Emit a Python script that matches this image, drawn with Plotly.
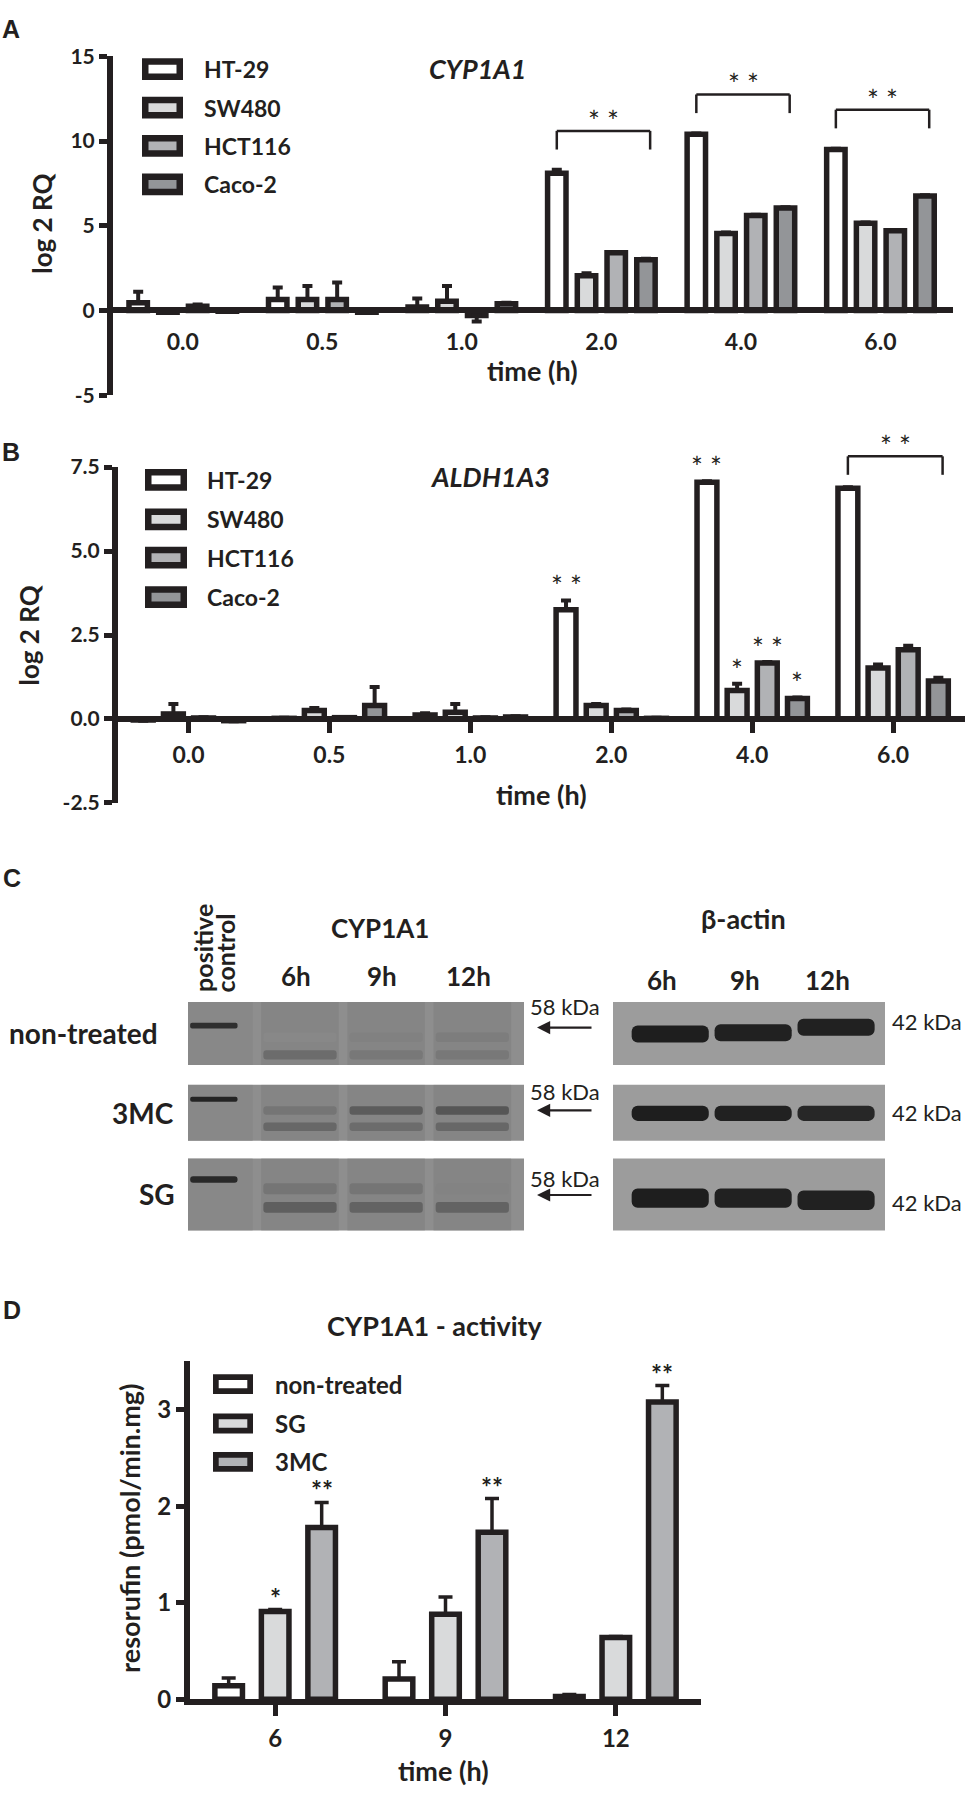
import plotly.graph_objects as go

W, H = 969, 1797
INK = "#231f20"
FONT = "Lato"
LETTER_FONT = "Liberation Sans"

# ---------------- panels A / B : qPCR, log2 RQ ----------------
times_ab = ["0.0", "0.5", "1.0", "2.0", "4.0", "6.0"]
cell_lines = ["HT-29", "SW480", "HCT116", "Caco-2"]
line_colors = ["#ffffff", "#d9dadb", "#b1b2b5", "#939598"]

# CYP1A1 (mean and SD)
cyp_ht29 = [0.45, 0.65, 0.2, 8.1, 10.4, 9.5]
cyp_sw480 = [-0.1, 0.65, 0.55, 2.05, 4.55, 5.15]
cyp_hct116 = [0.25, 0.65, -0.3, 3.4, 5.6, 4.7]
cyp_caco2 = [-0.05, -0.1, 0.4, 3.0, 6.05, 6.75]
cyp_ht29_sd = [0.65, 0.7, 0.5, 0.2, 0.05, 0.05]
cyp_sw480_sd = [0.02, 0.8, 0.9, 0.15, 0.05, 0.05]
cyp_hct116_sd = [0.1, 1.0, 0.35, 0.05, 0.05, 0.05]
cyp_caco2_sd = [0.02, 0.02, 0.05, 0.05, 0.05, 0.05]

# ALDH1A3 (mean and SD)
ald_ht29 = [-0.03, 0.02, 0.12, 3.25, 7.05, 6.87]
ald_sw480 = [0.15, 0.25, 0.2, 0.4, 0.85, 1.52]
ald_hct116 = [0.03, 0.04, 0.03, 0.25, 1.67, 2.06]
ald_caco2 = [-0.05, 0.4, 0.06, 0.02, 0.61, 1.13]
ald_ht29_sd = [0.02, 0.02, 0.05, 0.28, 0.03, 0.03]
ald_sw480_sd = [0.3, 0.08, 0.25, 0.05, 0.2, 0.1]
ald_hct116_sd = [0.02, 0.02, 0.02, 0.03, 0.03, 0.12]
ald_caco2_sd = [0.02, 0.55, 0.02, 0.02, 0.03, 0.1]

# significance: brackets over whole groups, stars over single bars
cyp_bracket_groups = ["2.0", "4.0", "6.0"]
ald_bracket_groups = ["6.0"]
ald_star_marks = [("2.0", "HT-29", "* *"), ("4.0", "HT-29", "* *"), ("4.0", "SW480", "*"),
                  ("4.0", "HCT116", "* *"), ("4.0", "Caco-2", "*")]

# ---------------- panel C : western blot ----------------
treatments_c = ["non-treated", "3MC", "SG"]
cyp_lanes = ["positive control", "6h", "9h", "12h"]
actin_lanes = ["6h", "9h", "12h"]
# band migration (0 = top of strip, 1 = bottom) and darkness (0..1)
cyp_control_pos = [0.375, 0.26, 0.29]
cyp_upper_pos = [0.56, 0.46, 0.42]
cyp_lower_pos = [0.84, 0.75, 0.68]
cyp_control_int = [0.85, 0.95, 0.9]
cyp_upper_int = [[0.05, 0.12, 0.15], [0.22, 0.45, 0.5], [0.22, 0.22, 0.1]]
cyp_lower_int = [[0.3, 0.2, 0.2], [0.35, 0.3, 0.35], [0.42, 0.38, 0.38]]
cyp_lane_smear = [0.05, 0.08, 0.08, 0.08]
actin_pos = [[0.51, 0.49, 0.40], [0.51, 0.51, 0.51], [0.55, 0.55, 0.58]]
actin_int = [[0.97, 0.95, 0.95], [0.97, 0.95, 0.9], [0.97, 0.95, 0.95]]

# ---------------- panel D : CYP1A1 activity ----------------
act_times = ["6", "9", "12"]
treatments_d = ["non-treated", "SG", "3MC"]
treat_colors = ["#ffffff", "#d9dadb", "#b1b2b5"]
act_nontreated = [0.14, 0.21, 0.03]
act_sg = [0.91, 0.88, 0.64]
act_3mc = [1.78, 1.73, 3.08]
act_nontreated_sd = [0.08, 0.18, 0.02]
act_sg_sd = [0.02, 0.18, 0.01]
act_3mc_sd = [0.26, 0.35, 0.17]
act_star_marks = [("6", "SG", "*"), ("6", "3MC", "**"), ("9", "3MC", "**"), ("12", "3MC", "**")]


def px(x):
    return x / W


def py(y):
    return 1 - y / H


fig = go.Figure()
shapes = []
annotations = []
axes = {}


def fnt(size, bold=True, italic=False, family=FONT):
    return dict(family=family, size=size, color=INK, weight="bold" if bold else "normal",
                style="italic" if italic else "normal")


def text(t, x, y, size, bold=True, italic=False, angle=0, xanchor="center", yanchor="middle", family=FONT):
    annotations.append(dict(text=t, x=px(x), y=py(y), xref="paper", yref="paper", showarrow=False,
                            textangle=angle, xanchor=xanchor, yanchor=yanchor,
                            font=fnt(size, bold, italic, family)))


def to_paper(ax, v):
    ya = axes["yaxis" + ax]
    d0, d1 = ya["domain"]
    r0, r1 = ya["range"]
    return d0 + (v - r0) / (r1 - r0) * (d1 - d0)


def add_bars(ax, cats, series, errs, names, colors, pitch, width, lw, err_w, err_t):
    n = len(series)
    for k in range(n):
        vals, sd = series[k], errs[k]
        up = [e if v >= 0 else 0 for v, e in zip(vals, sd)]
        down = [0 if v >= 0 else e for v, e in zip(vals, sd)]
        fig.add_trace(go.Bar(
            x=cats, y=vals, name=names[k], xaxis="x" + ax, yaxis="y" + ax,
            width=width, offset=(k - (n - 1) / 2) * pitch - width / 2,
            marker=dict(color=colors[k], line=dict(color=INK, width=lw)),
            error_y=dict(type="data", symmetric=False, array=up, arrayminus=down,
                         color=INK, thickness=err_t, width=err_w),
            showlegend=False))


def stars_over_bar(ax, cats, series, errs, names, pitch, marks, size, bold, yshift):
    n = len(series)
    for cat, name, t in marks:
        g, k = cats.index(cat), names.index(name)
        top = series[k][g] + errs[k][g]
        annotations.append(dict(xref="x" + ax, yref="paper", x=g + (k - (n - 1) / 2) * pitch,
                                y=to_paper(ax, top), text=t, showarrow=False, yanchor="middle",
                                yshift=yshift, font=fnt(size, bold)))


def brackets(ax, cats, series, errs, pitch, groups, leg, rise, yshift):
    n = len(series)
    for cat in groups:
        g = cats.index(cat)
        top = max(s[g] + e[g] for s, e in zip(series, errs))
        x0 = g - (n - 1) / 2 * pitch
        x1 = g + (n - 1) / 2 * pitch + 0.03
        y0, y1 = to_paper(ax, top + leg), to_paper(ax, top + rise)
        for a, b, c, d in [(x0, y0, x0, y1), (x0, y1, x1, y1), (x1, y1, x1, y0)]:
            shapes.append(dict(type="line", xref="x" + ax, yref="paper", x0=a, y0=b, x1=c, y1=d,
                               line=dict(color=INK, width=2.5)))
        annotations.append(dict(xref="x" + ax, yref="paper", x=(x0 + x1) / 2, y=y1, text="* *",
                                showarrow=False, yanchor="middle", yshift=yshift, font=fnt(28, False)))


def legend_boxes(names, colors, left, right, rows, box_h, lw, text_x, size):
    for name, col, yy in zip(names, colors, rows):
        shapes.append(dict(type="rect", xref="paper", yref="paper",
                           x0=px(left + lw / 2), x1=px(right - lw / 2),
                           y0=py(yy + box_h / 2 - lw / 2), y1=py(yy - box_h / 2 + lw / 2),
                           fillcolor=col, line=dict(color=INK, width=lw)))
        text(name, text_x, yy, size, xanchor="left")


def chart_axes(ax, xdom, ydom, yrange, xrange, yticks, yticktext, xfree, xticks, tickfont_y, tickfont_x):
    xa = dict(domain=xdom, type="category", range=xrange, showline=True, linewidth=6, linecolor=INK,
              showgrid=False, zeroline=False, tickfont=fnt(tickfont_x), fixedrange=True)
    if xticks:
        xa.update(ticks="outside", ticklen=11, tickwidth=5, tickcolor=INK, ticklabelstandoff=2)
    else:
        xa.update(ticks="", ticklabelstandoff=9)
    if xfree:
        zero = ydom[0] + (0 - yrange[0]) / (yrange[1] - yrange[0]) * (ydom[1] - ydom[0])
        xa.update(anchor="free", position=zero)
    else:
        xa.update(anchor="y" + ax)
    ya = dict(domain=ydom, range=yrange, anchor="x" + ax, showline=True, linewidth=6, linecolor=INK,
              ticks="outside", ticklen=8, tickwidth=5, tickcolor=INK, tickvals=yticks, ticktext=yticktext,
              tickfont=fnt(tickfont_y), showgrid=False, zeroline=False, fixedrange=True)
    axes["xaxis" + ax] = xa
    axes["yaxis" + ax] = ya


# ---- panel A ----
cyp_series = [cyp_ht29, cyp_sw480, cyp_hct116, cyp_caco2]
cyp_errs = [cyp_ht29_sd, cyp_sw480_sd, cyp_hct116_sd, cyp_caco2_sd]
chart_axes("", [px(113), px(953)], [py(387), py(43)], [-5, 15], [-0.5, 5.52],
           [-5, 0, 5, 10, 15], ["-5", "0", "5", "10", "15"], True, False, 21, 23)
add_bars("", times_ab, cyp_series, cyp_errs, cell_lines, line_colors, 0.213, 0.132, 5.5, 5, 4)
brackets("", times_ab, cyp_series, cyp_errs, 0.213, cyp_bracket_groups, 1.2, 2.3, 10)
legend_boxes(cell_lines, line_colors, 142, 183, [56, 95, 134, 173], 22, 6.5, 202, 23)
text("CYP1A1", 478, 55, 27, italic=True)
text("log 2 RQ", 42, 213, 26, angle=-90)
text("time (h)", 532, 362, 27)
text("A", 11, 15, 25, family=LETTER_FONT)

# ---- panel B ----
ald_series = [ald_ht29, ald_sw480, ald_hct116, ald_caco2]
ald_errs = [ald_ht29_sd, ald_sw480_sd, ald_hct116_sd, ald_caco2_sd]
chart_axes("2", [px(118), px(965)], [py(801), py(460)], [-2.5, 7.5], [-0.5, 5.51],
           [-2.5, 0, 2.5, 5, 7.5], ["-2.5", "0.0", "2.5", "5.0", "7.5"], True, True, 21, 23)
add_bars("2", times_ab, ald_series, ald_errs, cell_lines, line_colors, 0.214, 0.141, 5.5, 5, 4)
brackets("2", times_ab, ald_series, ald_errs, 0.214, ald_bracket_groups, 0.37, 0.92, 10)
stars_over_bar("2", times_ab, ald_series, ald_errs, cell_lines, 0.214, ald_star_marks, 28, False, 14)
legend_boxes(cell_lines, line_colors, 145, 187, [473, 513, 552, 592], 22, 6.5, 205, 23)
text("ALDH1A3", 490, 470, 27, italic=True)
text("log 2 RQ", 29, 631, 26, angle=-90)
text("time (h)", 541, 792, 27)
text("B", 11, 445, 25, family=LETTER_FONT)

# ---- panel D ----
act_series = [act_nontreated, act_sg, act_3mc]
act_errs = [act_nontreated_sd, act_sg_sd, act_3mc_sd]
chart_axes("3", [px(190), px(701)], [py(1711), py(1368)], [0, 3.5], [-0.5, 2.5],
           [0, 1, 2, 3], ["0", "1", "2", "3"], False, True, 24, 24)
add_bars("3", act_times, act_series, act_errs, treatments_d, treat_colors, 0.273, 0.162, 5.5, 7, 3.5)
stars_over_bar("3", act_times, act_series, act_errs, treatments_d, 0.273, act_star_marks, 26, True, 12)
legend_boxes(treatments_d, treat_colors, 213, 253, [1391, 1431, 1470], 20, 5.7, 273, 24)
text("CYP1A1 - activity", 435, 1331, 27)
text("resorufin (pmol/min.mg)", 130, 1538, 27, angle=-90)
text("time (h)", 443, 1783, 27)
text("D", 12, 1316, 25, family=LETTER_FONT)

# ---- panel C : blots ----
row_px = [(1003, 1067), (1087, 1144), (1162, 1235)]
cyp_bg, actin_bg = "#8e8e8e", "#9c9c9c"
cyp_scale = [[0, cyp_bg], [1, "#1e1e1e"]]
for r, (top, bottom) in enumerate(row_px):
    for i, (xdom, xr, bg) in enumerate([((188, 524), [-0.3, 3.6], cyp_bg),
                                        ((613, 885), [-0.69, 2.59], actin_bg)]):
        n = 4 + r + 3 * i
        axes["xaxis%d" % n] = dict(domain=[px(xdom[0]), px(xdom[1])], range=xr, type="category",
                                   visible=False, anchor="y%d" % n, fixedrange=True)
        axes["yaxis%d" % n] = dict(domain=[py(bottom), py(top)], range=[1, 0], visible=False,
                                   anchor="x%d" % n, fixedrange=True)
        shapes.append(dict(type="rect", xref="x%d domain" % n, yref="y%d domain" % n,
                           x0=0, x1=1, y0=0, y1=1, fillcolor=bg, line=dict(width=0), layer="below"))

    # CYP1A1 strip: faint lane smear, then bands
    fig.add_trace(go.Bar(x=cyp_lanes, y=[1] * 4, base=[0] * 4, width=0.9, offset=-0.45,
                         marker=dict(color=cyp_lane_smear, colorscale=cyp_scale, cmin=0, cmax=1,
                                     line=dict(width=0)),
                         xaxis="x%d" % (4 + r), yaxis="y%d" % (4 + r), showlegend=False))
    xs = [cyp_lanes[0]] + cyp_lanes[1:] + cyp_lanes[1:]
    pos = [cyp_control_pos[r]] + [cyp_upper_pos[r]] * 3 + [cyp_lower_pos[r]] * 3
    inten = [cyp_control_int[r]] + cyp_upper_int[r] + cyp_lower_int[r]
    thick = [0.09] + [0.15] * 6
    wid = [0.55] + [0.85] * 6
    fig.add_trace(go.Bar(x=xs, y=thick, base=[p - t / 2 for p, t in zip(pos, thick)],
                         width=wid, offset=[-w / 2 for w in wid],
                         marker=dict(color=inten, colorscale=cyp_scale, cmin=0, cmax=1,
                                     line=dict(width=0), cornerradius=3),
                         xaxis="x%d" % (4 + r), yaxis="y%d" % (4 + r), showlegend=False))
    # beta-actin strip
    fig.add_trace(go.Bar(x=actin_lanes, y=[0.27] * 3, base=[p - 0.135 for p in actin_pos[r]],
                         width=0.93, offset=-0.465,
                         marker=dict(color=actin_int[r], colorscale=[[0, actin_bg], [1, "#1a1a1a"]],
                                     cmin=0, cmax=1, line=dict(width=0), cornerradius=6),
                         xaxis="x%d" % (7 + r), yaxis="y%d" % (7 + r), showlegend=False))

    # row label
    annotations.append(dict(text=treatments_c[r], xref="paper", yref="y%d domain" % (4 + r),
                            x=px([160, 176, 177][r]), y=0.5, xanchor="right", yanchor="middle",
                            showarrow=False, font=fnt(28)))

# kDa markers
for yl, ya, ya2 in zip([1008, 1094, 1182], [1029, 1113, 1199], [1023, 1115, 1207]):
    text("58 kDa", 565, yl, 22, bold=False)
    annotations.append(dict(text="", x=px(537), y=py(ya), xref="paper", yref="paper", ax=56, ay=0,
                            showarrow=True, arrowhead=2, arrowsize=1.2, arrowwidth=2.2, arrowcolor=INK))
    text("42 kDa", 890, ya2, 22, bold=False, xanchor="left")

# lane labels
for j, lane in enumerate(cyp_lanes[1:], start=1):
    annotations.append(dict(text=lane, xref="x4", yref="paper", x=j - 0.05, y=py(977), showarrow=False,
                            font=fnt(26)))
for j, lane in enumerate(actin_lanes):
    annotations.append(dict(text=lane, xref="x7", yref="paper", x=j - 0.1, y=py(981), showarrow=False,
                            font=fnt(26)))
for word, dx in [("positive", -11), ("control", 11)]:
    annotations.append(dict(text=word, xref="x4", yref="paper", x=0, xshift=dx, y=py(995),
                            yanchor="bottom", textangle=-90, showarrow=False, font=fnt(25)))
text("CYP1A1", 380, 928, 26)
text("\u03b2-actin", 743, 918, 27)
text("C", 12, 877, 25, family=LETTER_FONT)

fig.update_layout(width=W, height=H, margin=dict(l=0, r=0, t=0, b=0), paper_bgcolor="white",
                  plot_bgcolor="rgba(0,0,0,0)", showlegend=False, barmode="group",
                  shapes=shapes, annotations=annotations, **axes)
fig.write_html("out.html", config={"displayModeBar": False},
               post_script="document.body.style.margin='0px';")
